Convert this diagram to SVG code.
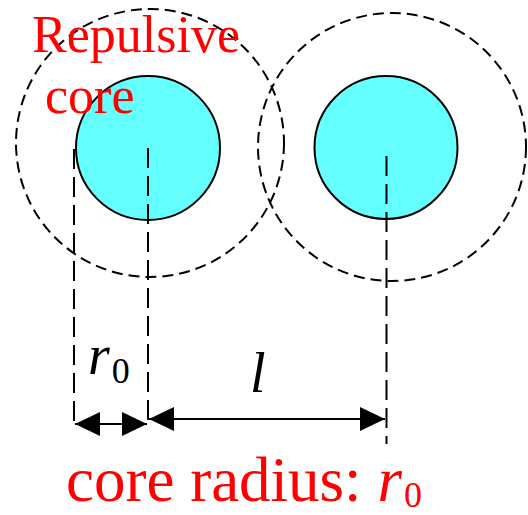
<svg xmlns="http://www.w3.org/2000/svg" width="528" height="515" viewBox="0 0 528 515">
<style>
.dc{fill:none;stroke:#000;stroke-width:2;stroke-dasharray:11 6}
.core{fill:#66FFFF;stroke:#000;stroke-width:2}
.dl{fill:none;stroke:#000;stroke-width:2;stroke-dasharray:20 8}
.arr{fill:none;stroke:#000;stroke-width:2;marker-start:url(#ah);marker-end:url(#ah)}
.t{font-family:"Liberation Serif","Times New Roman",serif}
.red{fill:#FF0000}
.it{font-style:italic}
</style>
<defs>
<marker id="ah" viewBox="0 0 25 24" refX="25" refY="12" markerWidth="25" markerHeight="24" markerUnits="userSpaceOnUse" orient="auto-start-reverse">
<path d="M0,0 L25,12 L0,24 z" fill="#000"/>
</marker>
</defs>
<g id="repulsive-left">
<circle class="dc" cx="150" cy="143" r="134"/>
</g>
<g id="repulsive-right">
<circle class="dc" cx="392" cy="147" r="134"/>
</g>
<g id="core-left">
<circle class="core" cx="148" cy="148" r="72"/>
</g>
<g id="core-right">
<circle class="core" cx="386" cy="147.5" r="71.5"/>
</g>
<g id="connectors">
<line class="dl" x1="74" y1="149" x2="74" y2="422"/>
<line class="dl" x1="148" y1="148" x2="148" y2="422"/>
<line class="dl" x1="386.5" y1="156" x2="386.5" y2="444"/>
<line class="arr" x1="75" y1="424" x2="147" y2="424"/>
<line class="arr" x1="149" y1="419" x2="385" y2="419"/>
</g>
<g id="labels">
<text class="t red" x="32" y="52" font-size="52">Repulsive</text>
<text class="t red" x="45" y="113" font-size="52">core</text>
<text class="t" x="88" y="374" font-size="56"><tspan class="it">r</tspan><tspan font-size="36" dx="2" dy="9">0</tspan></text>
<text class="t it" x="250" y="392" font-size="56">l</text>
<text class="t red" x="66" y="501" font-size="63">core radius: <tspan class="it">r</tspan><tspan font-size="36" dx="2" dy="6">0</tspan></text>
</g>
</svg>
